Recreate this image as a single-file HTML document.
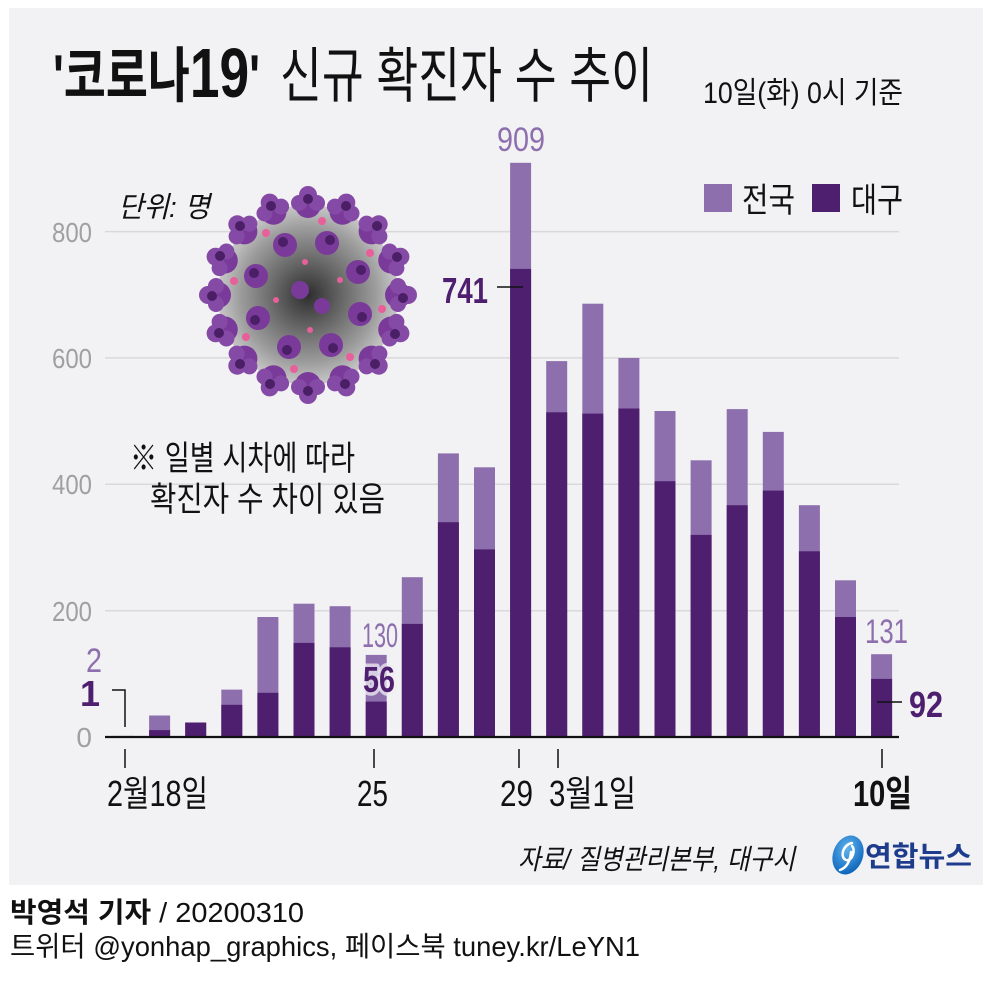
<!DOCTYPE html>
<html><head><meta charset="utf-8"><style>
html,body{margin:0;padding:0;background:#fff;}
svg{display:block;}
text{font-family:"Liberation Sans","Noto Sans CJK KR",sans-serif;}
</style></head><body>
<svg width="989" height="995" viewBox="0 0 989 995" xmlns="http://www.w3.org/2000/svg">
<defs>
<radialGradient id="vg" cx="50%" cy="50%" r="50%">
<stop offset="0" stop-color="#2e2e2e"/><stop offset="0.4" stop-color="#6a6a6a"/><stop offset="0.75" stop-color="#9c9c9c"/><stop offset="1" stop-color="#c8c8c8"/>
</radialGradient>
<radialGradient id="lg" cx="40%" cy="35%" r="70%">
<stop offset="0" stop-color="#5fb4f0"/><stop offset="1" stop-color="#0b62b8"/>
</radialGradient>
</defs>
<rect x="9" y="8" width="974" height="877" fill="#f2f2f4"/>

<!-- gridlines -->
<g stroke="#d9d9dc" stroke-width="1.5">
<line x1="105" y1="231.6" x2="899" y2="231.6"/>
<line x1="105" y1="357.9" x2="899" y2="357.9"/>
<line x1="105" y1="484.3" x2="899" y2="484.3"/>
<line x1="105" y1="610.7" x2="899" y2="610.7"/>
</g>

<!-- virus -->
<g>
<circle cx="308" cy="295" r="90" fill="url(#vg)"/>
<g fill="#7a3a9a">
<circle cx="398" cy="295" r="13"/><circle cx="391.2" cy="329.5" r="13"/><circle cx="371.6" cy="358.6" r="13"/><circle cx="342.5" cy="378.2" r="13"/>
<circle cx="308" cy="385" r="13"/><circle cx="273.5" cy="378.2" r="13"/><circle cx="244.4" cy="358.6" r="13"/><circle cx="224.8" cy="329.5" r="13"/>
<circle cx="218" cy="295" r="13"/><circle cx="224.8" cy="260.5" r="13"/><circle cx="244.4" cy="231.4" r="13"/><circle cx="273.5" cy="211.8" r="13"/>
<circle cx="308" cy="205" r="13"/><circle cx="342.5" cy="211.8" r="13"/><circle cx="371.6" cy="231.4" r="13"/><circle cx="391.2" cy="260.5" r="13"/>
</g>
<g fill="#854aa6">
<circle cx="408" cy="295" r="9"/><circle cx="398" cy="286" r="8"/><circle cx="398" cy="304" r="8"/>
<circle cx="400.4" cy="333.3" r="9"/><circle cx="389.6" cy="338.5" r="8"/><circle cx="396.4" cy="321.9" r="8"/>
<circle cx="378.7" cy="365.7" r="9"/><circle cx="366.6" cy="366.4" r="8"/><circle cx="379.4" cy="353.6" r="8"/>
<circle cx="346.3" cy="387.4" r="9"/><circle cx="334.9" cy="383.4" r="8"/><circle cx="351.5" cy="376.6" r="8"/>
<circle cx="308" cy="395" r="9"/><circle cx="299" cy="387" r="8"/><circle cx="317" cy="387" r="8"/>
<circle cx="269.7" cy="387.4" r="9"/><circle cx="264.5" cy="376.6" r="8"/><circle cx="281.1" cy="383.4" r="8"/>
<circle cx="237.3" cy="365.7" r="9"/><circle cx="236.6" cy="353.6" r="8"/><circle cx="249.4" cy="366.4" r="8"/>
<circle cx="215.6" cy="333.3" r="9"/><circle cx="219.6" cy="321.9" r="8"/><circle cx="226.4" cy="338.5" r="8"/>
<circle cx="208" cy="295" r="9"/><circle cx="216" cy="286" r="8"/><circle cx="216" cy="304" r="8"/>
<circle cx="215.6" cy="256.7" r="9"/><circle cx="226.4" cy="251.5" r="8"/><circle cx="219.6" cy="268.1" r="8"/>
<circle cx="237.3" cy="224.3" r="9"/><circle cx="249.4" cy="223.6" r="8"/><circle cx="236.6" cy="236.4" r="8"/>
<circle cx="269.7" cy="202.6" r="9"/><circle cx="281.1" cy="206.6" r="8"/><circle cx="264.5" cy="213.4" r="8"/>
<circle cx="308" cy="195" r="9"/><circle cx="317" cy="203" r="8"/><circle cx="299" cy="203" r="8"/>
<circle cx="346.3" cy="202.6" r="9"/><circle cx="351.5" cy="213.4" r="8"/><circle cx="334.9" cy="206.6" r="8"/>
<circle cx="378.7" cy="224.3" r="9"/><circle cx="379.4" cy="236.4" r="8"/><circle cx="366.6" cy="223.6" r="8"/>
<circle cx="400.4" cy="256.7" r="9"/><circle cx="396.4" cy="268.1" r="8"/><circle cx="389.6" cy="251.5" r="8"/>
</g>
<g fill="#7a3a9a">
<circle cx="360" cy="314" r="12"/><circle cx="331" cy="345" r="12"/><circle cx="289" cy="347" r="12"/><circle cx="258" cy="318" r="12"/>
<circle cx="256" cy="276" r="12"/><circle cx="285" cy="245" r="12"/><circle cx="327" cy="243" r="12"/><circle cx="358" cy="272" r="12"/>
<circle cx="300" cy="290" r="9"/><circle cx="322" cy="306" r="8"/>
</g>
<g fill="#4a1f66">
<circle cx="403" cy="298" r="5"/><circle cx="395" cy="334" r="5"/><circle cx="375" cy="364" r="5"/><circle cx="345" cy="384" r="5"/>
<circle cx="308" cy="391" r="5"/><circle cx="270" cy="384" r="5"/><circle cx="240" cy="364" r="5"/><circle cx="219" cy="333" r="5"/>
<circle cx="212" cy="296" r="5"/><circle cx="220" cy="256" r="5"/><circle cx="240" cy="226" r="5"/><circle cx="271" cy="206" r="5"/>
<circle cx="308" cy="199" r="5"/><circle cx="346" cy="206" r="5"/><circle cx="377" cy="226" r="5"/><circle cx="397" cy="257" r="5"/>
<circle cx="362" cy="317" r="5"/><circle cx="333" cy="348" r="5"/><circle cx="287" cy="350" r="5"/><circle cx="255" cy="320" r="5"/>
<circle cx="254" cy="273" r="5"/><circle cx="283" cy="242" r="5"/><circle cx="330" cy="240" r="5"/><circle cx="361" cy="270" r="5"/>
</g>
<g fill="#e8609a">
<circle cx="382" cy="309" r="4"/><circle cx="350" cy="357" r="4"/><circle cx="294" cy="369" r="4"/><circle cx="246" cy="337" r="4"/>
<circle cx="234" cy="281" r="4"/><circle cx="266" cy="233" r="4"/><circle cx="322" cy="221" r="4"/><circle cx="370" cy="253" r="4"/>
<circle cx="340" cy="280" r="3"/><circle cx="276" cy="300" r="3"/><circle cx="310" cy="330" r="3"/><circle cx="305" cy="262" r="3"/>
</g>
</g>

<!-- bars light (total) -->
<g fill="#8e6fae">
<rect x="113" y="735.7" width="21" height="1.3" fill="#cfc8d8"/>
<rect x="149.1" y="715.5" width="21" height="21.5"/>
<rect x="185.2" y="722.5" width="21" height="14.5"/>
<rect x="221.3" y="689.6" width="21" height="47.4"/>
<rect x="257.4" y="617" width="21" height="120"/>
<rect x="293.5" y="603.7" width="21" height="133.3"/>
<rect x="329.6" y="606.2" width="21" height="130.8"/>
<rect x="365.7" y="654.9" width="21" height="82.1"/>
<rect x="401.8" y="577.2" width="21" height="159.8"/>
<rect x="437.9" y="453.4" width="21" height="283.6"/>
<rect x="474" y="467.3" width="21" height="269.7"/>
<rect x="510.1" y="162.8" width="21" height="574.2"/>
<rect x="546.2" y="361.1" width="21" height="375.9"/>
<rect x="582.3" y="303.7" width="21" height="433.3"/>
<rect x="618.4" y="358" width="21" height="379"/>
<rect x="654.5" y="411" width="21" height="326"/>
<rect x="690.6" y="460.3" width="21" height="276.7"/>
<rect x="726.7" y="409.1" width="21" height="327.9"/>
<rect x="762.8" y="431.9" width="21" height="305.1"/>
<rect x="798.9" y="505.2" width="21" height="231.8"/>
<rect x="835" y="580.3" width="21" height="156.7"/>
<rect x="871.1" y="654.2" width="21" height="82.8"/>
</g>
<!-- bars dark (Daegu) -->
<g fill="#4e1f6e">
<rect x="149.1" y="730.1" width="21" height="6.9"/>
<rect x="185.2" y="722.5" width="21" height="14.5"/>
<rect x="221.3" y="704.8" width="21" height="32.2"/>
<rect x="257.4" y="692.8" width="21" height="44.2"/>
<rect x="293.5" y="642.9" width="21" height="94.1"/>
<rect x="329.6" y="647.3" width="21" height="89.7"/>
<rect x="365.7" y="701.6" width="21" height="35.4"/>
<rect x="401.8" y="623.9" width="21" height="113.1"/>
<rect x="437.9" y="522.2" width="21" height="214.8"/>
<rect x="474" y="549.4" width="21" height="187.6"/>
<rect x="510.1" y="268.9" width="21" height="468.1"/>
<rect x="546.2" y="412.3" width="21" height="324.7"/>
<rect x="582.3" y="413.6" width="21" height="323.4"/>
<rect x="618.4" y="408.5" width="21" height="328.5"/>
<rect x="654.5" y="481.2" width="21" height="255.8"/>
<rect x="690.6" y="534.9" width="21" height="202.1"/>
<rect x="726.7" y="505.2" width="21" height="231.8"/>
<rect x="762.8" y="490.6" width="21" height="246.4"/>
<rect x="798.9" y="551.3" width="21" height="185.7"/>
<rect x="835" y="617" width="21" height="120"/>
<rect x="871.1" y="678.9" width="21" height="58.1"/>
</g>

<!-- axis -->
<line x1="105" y1="737" x2="899" y2="737" stroke="#111" stroke-width="2.2"/>
<g stroke="#111" stroke-width="1.5">
<line x1="125" y1="749" x2="125" y2="768"/>
<line x1="374" y1="749" x2="374" y2="768"/>
<line x1="519" y1="749" x2="519" y2="768"/>
<line x1="558" y1="749" x2="558" y2="768"/>
<line x1="882" y1="749" x2="882" y2="768"/>
<path d="M112 690 H125 V727" fill="none"/>
<line x1="497" y1="287" x2="523" y2="287"/>
<line x1="877" y1="702" x2="902" y2="702"/>
</g>

<!-- y labels -->
<g fill="#a0a0a0" font-size="28" text-anchor="end">
<text x="92" y="242" textLength="40" lengthAdjust="spacingAndGlyphs">800</text>
<text x="92" y="368" textLength="40" lengthAdjust="spacingAndGlyphs">600</text>
<text x="92" y="494" textLength="40" lengthAdjust="spacingAndGlyphs">400</text>
<text x="92" y="621" textLength="40" lengthAdjust="spacingAndGlyphs">200</text>
<text x="92" y="747">0</text>
</g>

<!-- x labels -->
<g fill="#111" font-size="36">
<text x="107" y="806" textLength="101" lengthAdjust="spacingAndGlyphs">2월18일</text>
<text x="357" y="806" textLength="31" lengthAdjust="spacingAndGlyphs">25</text>
<text x="500" y="806" textLength="33" lengthAdjust="spacingAndGlyphs">29</text>
<text x="549" y="806" textLength="87" lengthAdjust="spacingAndGlyphs">3월1일</text>
<text x="853" y="806" font-weight="bold" textLength="59" lengthAdjust="spacingAndGlyphs">10일</text>
</g>

<!-- value labels -->
<g fill="#8e6fae" font-size="34">
<text x="497" y="151" textLength="48" lengthAdjust="spacingAndGlyphs">909</text>
<text x="86" y="672" textLength="16" lengthAdjust="spacingAndGlyphs">2</text>
<text x="362" y="647" textLength="36" lengthAdjust="spacingAndGlyphs">130</text>
<text x="865" y="643" textLength="43" lengthAdjust="spacingAndGlyphs">131</text>
</g>
<g fill="#4e1f6e" font-size="36" font-weight="bold">
<text x="442" y="303" textLength="46" lengthAdjust="spacingAndGlyphs">741</text>
<text x="100" y="706" text-anchor="end">1</text>
<text x="363" y="692" textLength="32" lengthAdjust="spacingAndGlyphs" stroke="rgba(240,238,244,0.75)" stroke-width="7" paint-order="stroke" stroke-linejoin="round">56</text>
<text x="909" y="717" textLength="34" lengthAdjust="spacingAndGlyphs">92</text>
</g>

<!-- title -->
<text x="53" y="97" font-size="60" font-weight="bold" fill="#111" textLength="207" lengthAdjust="spacingAndGlyphs">'코로나<tspan font-size="70">19</tspan>'</text>
<text x="280" y="97" font-size="60" fill="#111" textLength="373" lengthAdjust="spacingAndGlyphs">신규 확진자 수 추이</text>
<text x="703" y="103" font-size="30" fill="#111" textLength="200" lengthAdjust="spacingAndGlyphs">10일(화) 0시 기준</text>

<!-- legend -->
<rect x="704" y="184" width="28" height="28" fill="#8e6fae"/>
<rect x="812" y="184" width="28" height="28" fill="#4e1f6e"/>
<text x="742" y="212" font-size="34" fill="#111" textLength="53" lengthAdjust="spacingAndGlyphs">전국</text>
<text x="851" y="212" font-size="34" fill="#111" textLength="52" lengthAdjust="spacingAndGlyphs">대구</text>

<!-- unit & notes -->
<text x="118" y="217" font-size="29" font-style="italic" fill="#111" textLength="92" lengthAdjust="spacingAndGlyphs">단위: 명</text>
<text x="130" y="470" font-size="34" fill="#111" textLength="225" lengthAdjust="spacingAndGlyphs">※ 일별 시차에 따라</text>
<text x="150" y="511" font-size="34" fill="#111" textLength="235" lengthAdjust="spacingAndGlyphs">확진자 수 차이 있음</text>

<!-- source & logo -->
<text x="518" y="869" font-size="28" font-style="italic" fill="#111" textLength="277" lengthAdjust="spacingAndGlyphs">자료/  질병관리본부, 대구시</text>
<ellipse cx="848" cy="855" rx="15" ry="20" fill="url(#lg)" transform="rotate(20 848 855)"/>
<path d="M852 843 C842 845 840 858 846 860 C852 862 856 850 852 846 M851 852 C850 862 846 868 840 870" fill="none" stroke="#fff" stroke-width="2.5" stroke-linecap="round"/>
<text x="865" y="866" font-size="28" font-weight="bold" fill="#1d3c8c" textLength="107" lengthAdjust="spacingAndGlyphs">연합뉴스</text>

<!-- credits -->
<text x="10" y="922" font-size="28" fill="#111" textLength="294" lengthAdjust="spacingAndGlyphs"><tspan font-weight="bold">박영석 기자</tspan> /  20200310</text>
<text x="10" y="956" font-size="28" fill="#111" textLength="630" lengthAdjust="spacingAndGlyphs">트위터 @yonhap_graphics, 페이스북 tuney.kr/LeYN1</text>
</svg>
</body></html>
